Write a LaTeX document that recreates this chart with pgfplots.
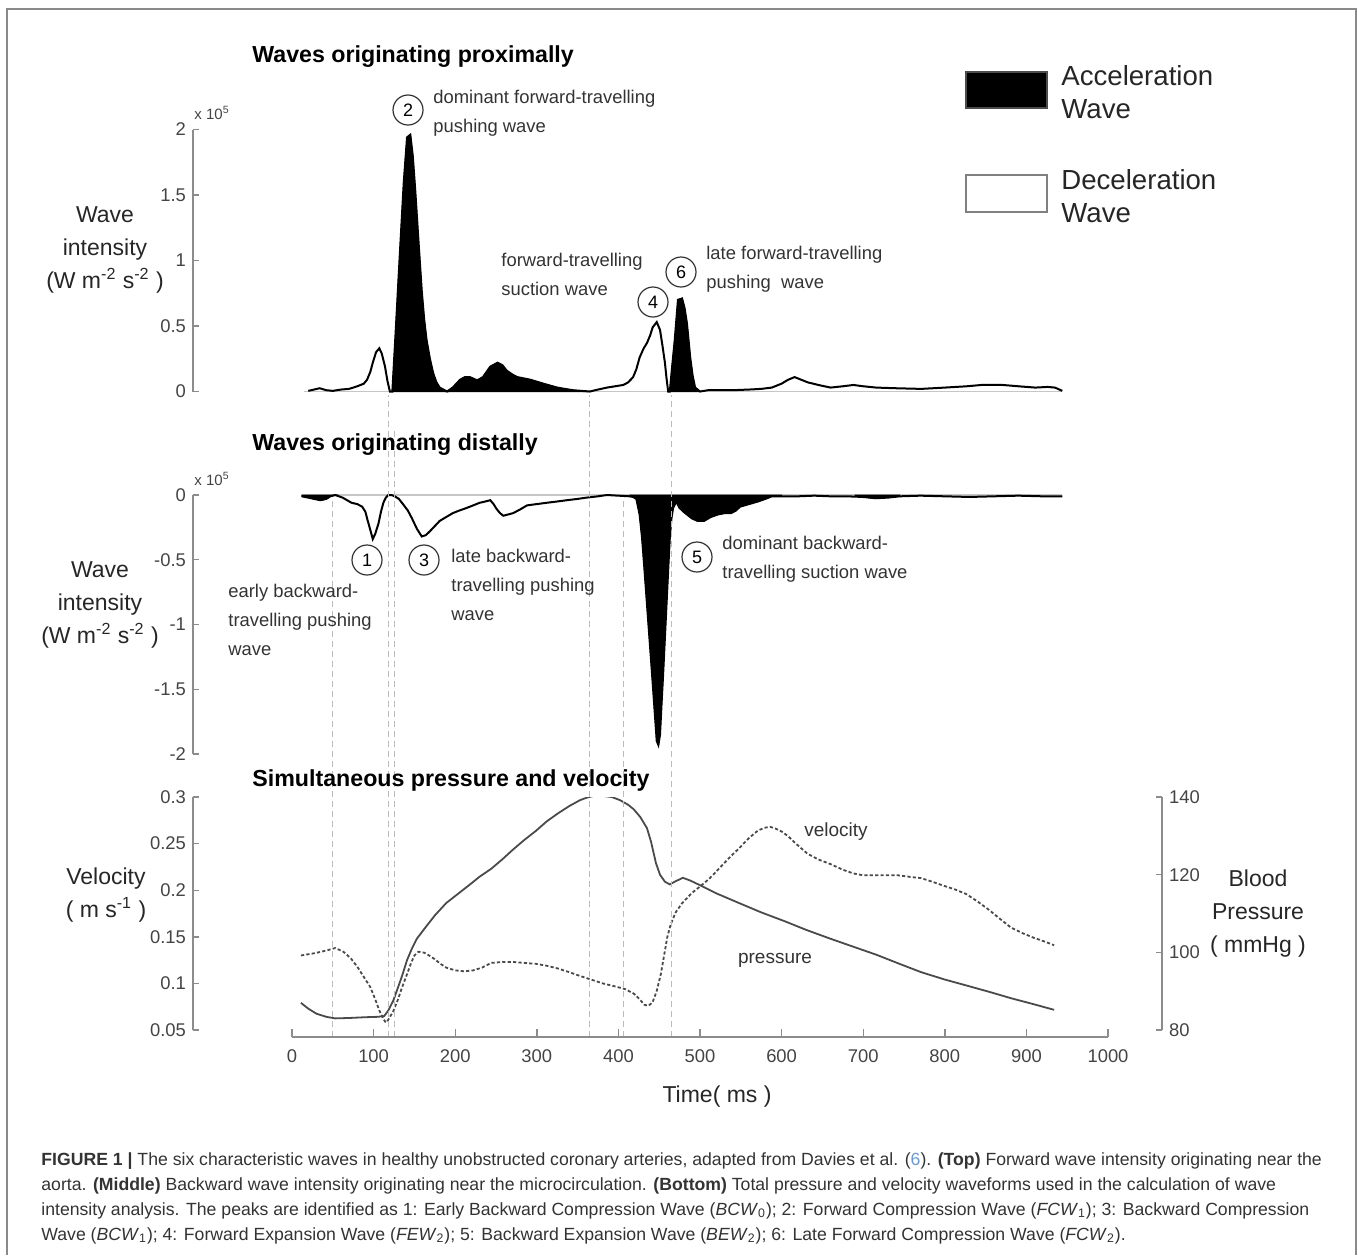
\documentclass[border=0pt]{standalone}
\usepackage{pgfplots}
\pgfplotsset{compat=1.18}
\usepackage{fontspec}
\setmainfont{Liberation Sans}
\definecolor{axisgray}{HTML}{8C8C8C}
\definecolor{ticktext}{HTML}{444444}
\definecolor{dashgray}{HTML}{BBBBBB}
\definecolor{framegray}{HTML}{8A8A8A}
\definecolor{captext}{HTML}{333333}
\definecolor{linkblue}{HTML}{6A9AD0}
\definecolor{curvegray}{HTML}{4A4A4A}
\pgfplotsset{
  panel/.style={
    scale only axis, anchor=south west, clip=false,
    xmin=-121.3, xmax=1000, width=457.5pt,
    axis x line=none, axis y line=left,
    y axis line style={-, draw=axisgray, line width=0.7pt},
    tick style={draw=axisgray, line width=0.7pt},
    tick align=inside, major tick length=3pt,
    yticklabel style={font=\fontsize{9.2}{11}\selectfont, text=ticktext},
    /pgf/number format/assume math mode=true,
  },
}
\begin{document}
\begin{tikzpicture}
\path[use as bounding box] (0,0) rectangle (679pt,-627.5pt);

% ---------------- top panel: forward wave intensity ----------------
\begin{axis}[panel, at={(96.5pt,-195.75pt)}, height=131pt,
  ymin=0, ymax=2, ytick={0,0.5,1,1.5,2}]
\addplot[draw=gray!45, line width=0.6pt] coordinates {(15,0) (944,0)};
\addplot[fill=black, draw=black, line width=0.5pt] coordinates {
(123,0) (127,0.45) (132,1.03) (137,1.6) (141,1.94) (145,1.96) (148,1.8) (151,1.54) (155,1.15) (159,0.77) (162,0.55) (165,0.39) (169,0.25) (173,0.14) (177,0.07) (181,0.03) (190,0)} \closedcycle;
\addplot[fill=black, draw=black, line width=0.5pt] coordinates {
(190,0) (197,0.03) (206,0.09) (212,0.11) (218,0.11) (227,0.085) (234,0.11) (243,0.19) (252,0.22) (258,0.2) (263,0.16) (270,0.13) (276,0.11) (292,0.09) (308,0.06) (325,0.03) (344,0.01) (365,0)} \closedcycle;
\addplot[fill=black, draw=black, line width=0.5pt] coordinates {
(463,0) (466,0.2) (469,0.39) (473,0.70) (478,0.71) (481,0.64) (484,0.52) (488,0.26) (491,0.12) (494,0.03) (500,0)} \closedcycle;
\addplot[black, line width=1pt] coordinates {
(20,0.005) (27,0.015) (34,0.025) (42,0.01) (50,0.005) (60,0.015) (70,0.02) (80,0.04) (88,0.06) (92,0.09) (96,0.15) (99,0.22) (103,0.30) (107,0.33) (110,0.29) (114,0.19) (117,0.08) (120,0) (123,0) (127,0.45) (132,1.03) (137,1.6) (141,1.94) (145,1.96) (148,1.8) (151,1.54) (155,1.15) (159,0.77) (162,0.55) (165,0.39) (169,0.25) (173,0.14) (177,0.07) (181,0.03) (190,0) (197,0.03) (206,0.09) (212,0.11) (218,0.11) (227,0.085) (234,0.11) (243,0.19) (252,0.22) (258,0.2) (263,0.16) (270,0.13) (276,0.11) (292,0.09) (308,0.06) (325,0.03) (344,0.01) (365,0) (375,0.015) (386,0.03) (396,0.04) (406,0.05) (412,0.07) (418,0.11) (422,0.17) (426,0.26) (431,0.33) (435,0.37) (439,0.43) (442,0.49) (447,0.53) (451,0.47) (454,0.35) (457,0.22) (459,0.1) (461,0) (463,0) (466,0.2) (469,0.39) (473,0.70) (478,0.71) (481,0.64) (484,0.52) (488,0.26) (491,0.12) (494,0.03) (500,0) (510,0.01) (522,0.01) (540,0.01) (560,0.015) (575,0.02) (588,0.03) (600,0.06) (608,0.09) (616,0.11) (624,0.09) (632,0.07) (645,0.05) (660,0.03) (675,0.04) (688,0.05) (700,0.04) (716,0.03) (740,0.025) (771,0.02) (800,0.03) (827,0.04) (845,0.05) (871,0.05) (890,0.04) (911,0.03) (926,0.035) (935,0.03) (944,0.005)};
\end{axis}

% ---------------- middle panel: backward wave intensity ----------------
\begin{axis}[panel, at={(96.5pt,-377pt)}, height=129.5pt,
  ymin=-2, ymax=0, ytick={-2,-1.5,-1,-0.5,0}]
\addplot[draw=gray!45, line width=0.6pt] coordinates {(12,0) (944,0)};
\addplot[fill=black, draw=black, line width=0.5pt] coordinates {
(12,-0.01) (20,-0.02) (27,-0.03) (35,-0.04) (42,-0.03) (47,-0.01) (53,0)} \closedcycle;
\addplot[fill=black, draw=black, line width=0.5pt] coordinates {
(414,-0.01) (418,-0.015) (422,-0.03) (426,-0.15) (429,-0.33) (432,-0.58) (435,-0.84) (438,-1.1) (441,-1.36) (444,-1.63) (447,-1.9) (449,-1.93) (451,-1.85) (453,-1.6) (455,-1.36) (457,-1.1) (459,-0.84) (461,-0.58) (463,-0.33) (465,-0.18) (467,-0.1) (471,-0.05) (475,-0.1) (480,-0.13) (484,-0.15) (490,-0.18) (497,-0.2) (505,-0.2) (513,-0.17) (522,-0.15) (530,-0.14) (538,-0.14) (544,-0.12) (549,-0.09) (560,-0.07) (571,-0.05) (580,-0.03) (588,-0.01) (600,-0.005)} \closedcycle;
\addplot[fill=black, draw=black, line width=0.5pt] coordinates {
(690,-0.01) (700,-0.015) (715,-0.025) (730,-0.02) (745,-0.01)} \closedcycle;
\addplot[black, line width=1pt] coordinates {
(12,-0.01) (20,-0.02) (27,-0.03) (35,-0.04) (42,-0.03) (47,-0.01) (53,0) (62,-0.02) (73,-0.06) (80,-0.07) (86,-0.09) (90,-0.13) (92,-0.18) (96,-0.27) (99,-0.34) (102,-0.30) (106,-0.22) (109,-0.13) (112,-0.06) (115,-0.02) (118,0) (122,0) (126,-0.01) (131,-0.03) (136,-0.07) (142,-0.12) (147,-0.18) (153,-0.26) (159,-0.32) (164,-0.31) (169,-0.28) (175,-0.24) (181,-0.2) (189,-0.17) (197,-0.14) (205,-0.12) (214,-0.1) (222,-0.08) (230,-0.06) (237,-0.05) (243,-0.04) (247,-0.07) (251,-0.11) (255,-0.14) (259,-0.16) (265,-0.15) (271,-0.14) (280,-0.11) (288,-0.08) (300,-0.07) (312,-0.06) (325,-0.05) (337,-0.04) (350,-0.03) (361,-0.02) (375,-0.01) (386,0) (400,-0.005) (414,-0.01) (418,-0.015) (422,-0.03) (426,-0.15) (429,-0.33) (432,-0.58) (435,-0.84) (438,-1.1) (441,-1.36) (444,-1.63) (447,-1.9) (449,-1.93) (451,-1.85) (453,-1.6) (455,-1.36) (457,-1.1) (459,-0.84) (461,-0.58) (463,-0.33) (465,-0.18) (467,-0.1) (471,-0.05) (475,-0.1) (480,-0.13) (484,-0.15) (490,-0.18) (497,-0.2) (505,-0.2) (513,-0.17) (522,-0.15) (530,-0.14) (538,-0.14) (544,-0.12) (549,-0.09) (560,-0.07) (571,-0.05) (580,-0.03) (588,-0.01) (600,-0.01) (620,-0.01) (640,-0.005) (660,-0.01) (680,-0.01) (700,-0.015) (715,-0.025) (730,-0.02) (745,-0.01) (770,-0.005) (800,-0.01) (830,-0.015) (860,-0.01) (890,-0.005) (920,-0.01) (944,-0.01)};
\end{axis}

% ---------------- bottom panel: pressure (right axis) ----------------
\begin{axis}[scale only axis, anchor=south west, at={(96.5pt,-515pt)},
  width=484.5pt, height=116.5pt, xmin=-121.3, xmax=1066.2, ymin=80, ymax=140,
  axis x line=none, axis y line=right,
  y axis line style={-, draw=axisgray, line width=0.7pt},
  tick style={draw=axisgray, line width=0.7pt},
  tick align=inside, major tick length=3pt,
  ytick={80,100,120,140},
  yticklabel style={font=\fontsize{9.2}{11}\selectfont, text=ticktext},
  /pgf/number format/assume math mode=true]
\addplot[curvegray, line width=0.9pt] coordinates {
(11,87) (20,85.5) (30,84.2) (42,83.4) (53,83.0) (70,83.1) (90,83.3) (105,83.4) (113,83.6) (118,85.0) (124,87.5) (130,91) (135,94) (141,98) (147,101) (153,103.5) (162,106) (175,109.5) (189,112.7) (203,115) (217,117.3) (230,119.5) (244,121.5) (258,124) (271,126.5) (285,129) (299,131.3) (312,133.7) (326,135.8) (340,137.7) (353,139.2) (362,139.9) (370,140.3) (381,140.3) (392,140) (402,139.2) (412,138) (419,136.8) (427,134.8) (435,132) (440,128.5) (446,123) (451,120) (457,118.2) (463,117.5) (470,118.3) (479,119.2) (488,118.5) (500,117.3) (520,115.2) (549,112.6) (575,110.3) (604,108) (630,105.8) (660,103.5) (690,101.3) (716,99.4) (745,97.0) (771,94.9) (800,93.0) (826,91.5) (855,89.8) (881,88.2) (908,86.7) (934,85.2)};
\end{axis}

% ---------------- bottom panel: velocity (left axis) ----------------
\begin{axis}[panel, at={(96.5pt,-515pt)}, height=116.5pt,
  ymin=0.05, ymax=0.3, ytick={0.05,0.1,0.15,0.2,0.25,0.3},
  yticklabels={0.05,0.1,0.15,0.2,0.25,0.3}]
\addplot[curvegray, line width=0.9pt, dash pattern=on 1.6pt off 1.1pt] coordinates {
(11,0.130) (25,0.132) (36,0.134) (45,0.136) (53,0.138) (63,0.134) (72,0.127) (80,0.118) (88,0.107) (96,0.096) (102,0.083) (107,0.071) (112,0.062) (115,0.058) (118,0.061) (124,0.07) (130,0.083) (135,0.096) (141,0.11) (146,0.122) (150,0.13) (155,0.134) (162,0.133) (168,0.130) (175,0.126) (182,0.121) (189,0.117) (200,0.114) (211,0.113) (222,0.114) (233,0.117) (244,0.122) (258,0.123) (271,0.123) (285,0.122) (299,0.121) (312,0.119) (326,0.116) (340,0.112) (353,0.108) (367,0.104) (381,0.1) (395,0.097) (408,0.094) (419,0.089) (426,0.083) (432,0.077) (437,0.076) (442,0.08) (447,0.092) (452,0.11) (456,0.13) (460,0.15) (464,0.163) (470,0.176) (478,0.186) (490,0.197) (500,0.204) (511,0.212) (522,0.222) (535,0.234) (549,0.246) (560,0.256) (571,0.264) (579,0.267) (586,0.268) (593,0.266) (600,0.263) (608,0.258) (615,0.252) (624,0.245) (632,0.239) (645,0.233) (660,0.228) (675,0.222) (688,0.218) (700,0.216) (720,0.216) (743,0.216) (760,0.214) (771,0.213) (785,0.209) (798,0.205) (812,0.201) (826,0.196) (840,0.188) (854,0.179) (868,0.169) (881,0.160) (895,0.154) (909,0.149) (922,0.145) (934,0.141)};
% vertical reference lines at the wave onsets
\addplot[dashgray, line width=0.6pt, dash pattern=on 3pt off 2pt] coordinates {(50,0.0425) (50,0.6219)};
\addplot[dashgray, line width=0.6pt, dash pattern=on 3pt off 2pt] coordinates {(118,0.0425) (118,0.7314)};
\addplot[dashgray, line width=0.6pt, dash pattern=on 3pt off 2pt] coordinates {(126,0.0425) (126,0.6938)};
\addplot[dashgray, line width=0.6pt, dash pattern=on 3pt off 2pt] coordinates {(365,0.0425) (365,0.7314)};
\addplot[dashgray, line width=0.6pt, dash pattern=on 3pt off 2pt] coordinates {(406,0.0425) (406,0.6219)};
\addplot[dashgray, line width=0.6pt, dash pattern=on 3pt off 2pt] coordinates {(465,0.0425) (465,0.7314)};
\end{axis}

% ---------------- time axis ----------------
\begin{axis}[scale only axis, anchor=south west, at={(146pt,-518.5pt)},
  width=408pt, height=10pt, xmin=0, xmax=1000, ymin=0, ymax=1,
  axis x line=bottom, axis y line=none,
  x axis line style={-, draw=axisgray, line width=0.7pt},
  tick style={draw=axisgray, line width=0.7pt},
  tick align=inside, major tick length=4pt,
  xtick={0,100,...,1000},
  xticklabel style={font=\fontsize{9.2}{11}\selectfont, text=ticktext, yshift=-3pt},
  /pgf/number format/assume math mode=true,
  /pgf/number format/1000 sep={}]
\addplot[draw=none] coordinates {(0,0) (1000,0)};
\end{axis}

% ---------------- texts, legend, frame ----------------
\begin{scope}[x=0.5pt, y=-0.5pt]
\draw[framegray, line width=1pt] (7,1255) -- (7,9) -- (1356,9) -- (1356,1255);

\tikzset{ttl/.style={anchor=west, inner sep=0pt, font=\bfseries\fontsize{11.6}{14}\selectfont},
  lab/.style={inner sep=0pt, align=center, font=\fontsize{11.5}{16.5}\selectfont, text=black!85},
  ann/.style={anchor=west, inner sep=0pt, align=left, font=\fontsize{9.2}{14.5}\selectfont, text=black!80},
  num/.style={circle, draw=black!80, line width=0.6pt, minimum size=15pt, inner sep=0pt, font=\fontsize{9}{10}\selectfont},
  tens/.style={inner sep=0pt, font=\fontsize{7.5}{9}\selectfont, text=ticktext},
  capline/.style={anchor=base west, inner sep=0pt, font=\fontsize{8.82}{12.5}\selectfont, text=captext}}

\node[ttl] at (252,57) {Waves originating proximally};
\node[ttl] at (252,445) {Waves originating distally};
\node[ttl] at (252,780) {Simultaneous pressure and velocity};

\node[tens] at (212,113) {x 10\textsuperscript{5}};
\node[tens] at (212,479) {x 10\textsuperscript{5}};

\node[lab] at (105,250) {Wave\\intensity\\(W m\textsuperscript{-2} s\textsuperscript{-2} )};
\node[lab] at (100,605) {Wave\\intensity\\(W m\textsuperscript{-2} s\textsuperscript{-2} )};
\node[lab] at (106,895) {Velocity\\( m s\textsuperscript{-1} )};
\node[lab] at (1258,914) {Blood\\Pressure\\( mmHg )};
\node[lab] at (717,1097) {Time( ms )};

% legend
\draw[fill=black, draw=black!70, line width=0.6pt] (966,72) rectangle (1047,108);
\draw[draw=gray, line width=0.8pt, fill=white] (966,175) rectangle (1047,212);
\node[anchor=west, inner sep=0pt, align=left, font=\fontsize{13.8}{16.5}\selectfont, text=black!85] at (1061,92) {Acceleration\\Wave};
\node[anchor=west, inner sep=0pt, align=left, font=\fontsize{13.8}{16.5}\selectfont, text=black!85] at (1061,196) {Deceleration\\Wave};

% annotations top
\node[num] at (408,110) {2};
\node[ann] at (433,113) {dominant forward-travelling\\pushing wave};
\node[ann] at (501,274) {forward-travelling\\suction wave};
\node[num] at (653,302) {4};
\node[num] at (681,272) {6};
\node[ann] at (706,269) {late forward-travelling\\pushing\ \ wave};
% annotations middle
\node[num] at (367,560) {1};
\node[num] at (424,560) {3};
\node[ann] at (451,585) {late backward-\\travelling pushing\\wave};
\node[ann] at (228,620) {early backward-\\travelling pushing\\wave};
\node[num] at (697,557) {5};
\node[ann] at (722,559) {dominant backward-\\travelling suction wave};
% bottom curve labels
\node[inner sep=0pt, font=\fontsize{9.5}{11}\selectfont, text=black!80] at (836,832) {velocity};
\node[inner sep=0pt, font=\fontsize{9.5}{11}\selectfont, text=black!80] at (775,960) {pressure};

% caption
\node[capline] at (41,1165) {\textbf{FIGURE 1 |} The six characteristic waves in healthy unobstructed coronary arteries, adapted from Davies et al. ({\color{linkblue}6}). \textbf{(Top)} Forward wave intensity originating near the};
\node[capline] at (41,1190) {aorta. \textbf{(Middle)} Backward wave intensity originating near the microcirculation. \textbf{(Bottom)} Total pressure and velocity waveforms used in the calculation of wave};
\node[capline] at (41,1215) {intensity analysis. The peaks are identified as 1: Early Backward Compression Wave (\textit{BCW}\textsubscript{0}); 2: Forward Compression Wave (\textit{FCW}\textsubscript{1}); 3: Backward Compression};
\node[capline] at (41,1240) {Wave (\textit{BCW}\textsubscript{1}); 4: Forward Expansion Wave (\textit{FEW}\textsubscript{2}); 5: Backward Expansion Wave (\textit{BEW}\textsubscript{2}); 6: Late Forward Compression Wave (\textit{FCW}\textsubscript{2}).};
\end{scope}
\end{tikzpicture}
\end{document}
